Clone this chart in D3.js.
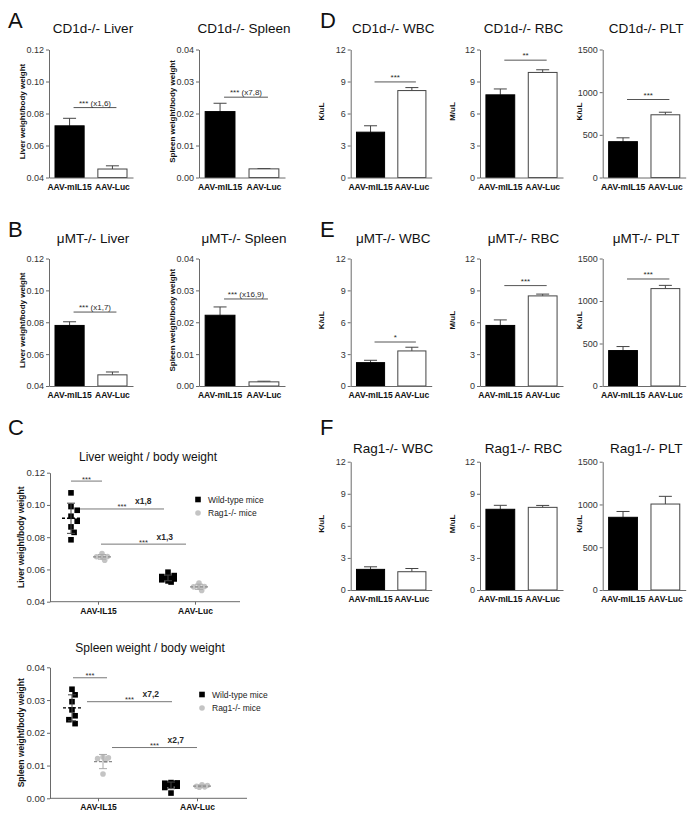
<!DOCTYPE html>
<html><head><meta charset="utf-8">
<script src="https://cdn.jsdelivr.net/npm/d3@7"></script>
<style>
body{margin:0;background:#fff}
svg text{font-family:"Liberation Sans",Arial,sans-serif}
</style>
</head><body>
<svg id="c" width="700" height="819"></svg>
<script>
// ---------------- DATA ----------------
const barCategories = ["AAV-mIL15", "AAV-Luc"];
const scatterCategories = ["AAV-IL15", "AAV-Luc"];
const mouseTypes = ["Wild-type mice", "Rag1-/- mice"];

const liverTicks = [0.04, 0.06, 0.08, 0.10, 0.12];
const spleenTicks = [0.00, 0.01, 0.02, 0.03, 0.04];
const cbcTicks = [0, 3, 6, 9, 12];
const pltTicks = [0, 500, 1000, 1500];

// Panel A (CD1d-/-)
const cd1dLiverMean = [0.0723, 0.0453];
const cd1dLiverErr = [0.0047, 0.0020];
const cd1dSpleenMean = [0.0206, 0.0027];
const cd1dSpleenErr = [0.0026, 0.0001];
// Panel B (uMT-/-)
const umtLiverMean = [0.0780, 0.0470];
const umtLiverErr = [0.0023, 0.0018];
const umtSpleenMean = [0.0222, 0.0013];
const umtSpleenErr = [0.0026, 0.0002];
// Panel D (CD1d-/- blood)
const cd1dWbcMean = [4.25, 8.15], cd1dWbcErr = [0.60, 0.28];
const cd1dRbcMean = [7.75, 9.85], cd1dRbcErr = [0.55, 0.25];
const cd1dPltMean = [420, 735], cd1dPltErr = [45, 30];
// Panel E (uMT-/- blood)
const umtWbcMean = [2.20, 3.30], umtWbcErr = [0.22, 0.35];
const umtRbcMean = [5.70, 8.48], umtRbcErr = [0.52, 0.17];
const umtPltMean = [417, 1146], umtPltErr = [47, 38];
// Panel F (Rag1-/- blood)
const rag1WbcMean = [1.93, 1.71], rag1WbcErr = [0.24, 0.30];
const rag1RbcMean = [7.55, 7.73], rag1RbcErr = [0.37, 0.18];
const rag1PltMean = [850, 1005], rag1PltErr = [68, 90];

// significance annotations for bar panels: [label, height]
const cd1dLiverSig = ["*** (x1,6)", 0.0837];
const cd1dSpleenSig = ["*** (x7,8)", 0.0251];
const umtLiverSig = ["*** (x1,7)", 0.0864];
const umtSpleenSig = ["*** (x16,9)", 0.0273];
const cd1dWbcSig = ["***", 8.96];
const cd1dRbcSig = ["**", 11.0];
const cd1dPltSig = ["***", 914];
const umtWbcSig = ["*", 4.14];
const umtRbcSig = ["***", 9.45];
const umtPltSig = ["***", 1259];

// Panel C individual mice
const liverWtIL15 = [0.1075, 0.0990, 0.0967, 0.0930, 0.0899, 0.0864, 0.0830, 0.0784];
const liverRagIL15 = [0.0698, 0.0680, 0.0679, 0.0677, 0.0657];
const liverWtLuc = [0.0583, 0.0562, 0.0556, 0.0552, 0.0549, 0.0545, 0.0541, 0.0536, 0.0529, 0.0522];
const liverRagLuc = [0.0515, 0.0494, 0.0492, 0.0491, 0.0470];
const spleenWtIL15 = [0.0333, 0.0316, 0.0295, 0.0270, 0.0252, 0.0240, 0.0228];
const spleenRagIL15 = [0.0126, 0.0121, 0.0124, 0.0116, 0.0074];
const spleenWtLuc = [0.0048, 0.0047, 0.0046, 0.0045, 0.0043, 0.0040, 0.0037, 0.0033, 0.0016];
const spleenRagLuc = [0.0041, 0.0039, 0.0037, 0.0035, 0.0034];

// C significance: [fromType, fromGroup, toType, toGroup, height, stars, fold]
const liverScatterSig = [
  [0, 0, 1, 0, 0.1148, "***", ""],
  [0, 0, 0, 1, 0.0975, "***", "x1,8"],
  [1, 0, 1, 1, 0.0757, "***", "x1,3"]
];
const spleenScatterSig = [
  [0, 0, 1, 0, 0.0368, "***", ""],
  [0, 0, 0, 1, 0.0295, "***", "x7,2"],
  [1, 0, 1, 1, 0.0155, "***", "x2,7"]
];

// ---------------- DRAWING ----------------
const svg = d3.select("#c");
const AXIS = "#6a6a6a";
const INK = "#2a2a2a";
const fmt2 = d3.format(".2f");
const fmt0 = d3.format("d");

function styleAxis(sel, fs) {
  sel.attr("font-family", null).attr("font-size", null);
  sel.select(".domain").attr("stroke", AXIS);
  sel.selectAll(".tick line").attr("stroke", AXIS);
  sel.selectAll(".tick text").attr("fill", "#333").style("font-size", fs || "9px");
}

function letter(t, x, y) {
  svg.append("text").attr("x", x).attr("y", y).style("font-size", "22px").attr("fill", "#111").text(t);
}

function barPanel(o) {
  const g = svg.append("g");
  const y = d3.scaleLinear().domain(o.domain).range([o.bottom, o.top]);
  const x = d3.scaleBand().domain(barCategories).range([o.x0, o.x0 + o.w])
    .paddingInner(0.32).paddingOuter(0.14);
  const bw = x.bandwidth();
  g.append("text").attr("x", o.x0 + o.w / 2 + 2).attr("y", o.titleY)
    .attr("text-anchor", "middle").style("font-size", "13.5px").attr("fill", "#111").text(o.title);
  g.append("text").attr("transform", `translate(${o.labelX},${(o.top + o.bottom) / 2 - 2}) rotate(-90)`)
    .attr("dy", "0.35em").attr("text-anchor", "middle").style("font-weight", "bold")
    .style("font-size", "8px").attr("fill", "#111").text(o.ylabel);
  const rows = barCategories.map((c, i) => ({ c, i, m: o.mean[i], e: o.err[i] }));
  g.selectAll("path.err").data(rows).join("path").attr("class", "err")
    .attr("d", d => {
      const cx = x(d.c) + bw / 2, y1 = y(d.m), y2 = y(d.m + d.e);
      return `M${cx},${y1}V${y2}M${cx - 6.5},${y2}H${cx + 6.5}`;
    })
    .attr("stroke", "#444").attr("fill", "none").attr("stroke-width", 1);
  g.selectAll("rect").data(rows).join("rect")
    .attr("x", d => x(d.c)).attr("y", d => y(d.m))
    .attr("width", bw).attr("height", d => o.bottom - y(d.m))
    .attr("fill", d => d.i === 0 ? "#000" : "#fff")
    .attr("stroke", d => d.i === 0 ? "#000" : "#444").attr("stroke-width", 1);
  const ay = g.append("g").attr("transform", `translate(${o.x0},0)`)
    .call(d3.axisLeft(y).tickValues(o.ticks).tickFormat(o.fmt).tickSize(3).tickSizeOuter(0).tickPadding(2));
  styleAxis(ay);
  const ax = g.append("g").attr("transform", `translate(0,${o.bottom})`)
    .call(d3.axisBottom(x).tickSize(0).tickSizeOuter(0).tickPadding(6));
  styleAxis(ax);
  ax.selectAll(".tick text").style("font-weight", "bold").style("font-size", "8.5px").attr("fill", "#111");
  if (o.sig) {
    const xa = x(barCategories[0]) + bw / 2 + 4, xb = x(barCategories[1]) + bw / 2 + 4;
    const yy = y(o.sig[1]);
    g.append("line").attr("x1", xa).attr("x2", xb).attr("y1", yy).attr("y2", yy)
      .attr("stroke", "#555").attr("stroke-width", 1);
    g.append("text").attr("x", (xa + xb) / 2).attr("y", yy - 2).attr("text-anchor", "middle")
      .style("font-size", "8px").attr("fill", INK).text(o.sig[0]);
  }
}

// simple bounded beeswarm: spreads colliding points sideways, at most maxOff from the column
function swarm(values, cx, y, size, maxOff) {
  const placed = [];
  const sorted = values.slice().sort((a, b) => b - a);
  const step = size * 0.5;
  const offs = [0];
  for (let i = 1; i * step <= maxOff + 0.01; i++) offs.push(i * step, -i * step);
  return sorted.map(v => {
    const py = y(v);
    let best = null, bestD = -1;
    for (const o of offs) {
      const px = cx + o;
      const dmin = placed.length ? d3.min(placed, p => Math.hypot(p.x - px, p.y - py)) : Infinity;
      if (dmin >= size) { best = px; break; }
      if (dmin > bestD) { bestD = dmin; best = px; }
    }
    placed.push({ x: best, y: py });
    return { x: best, y: py };
  });
}

function scatterPanel(o) {
  const g = svg.append("g");
  const y = d3.scaleLinear().domain(o.domain).range([o.bottom, o.top]);
  const xg = d3.scalePoint().domain(scatterCategories).range(o.groupRange);
  const col = (t, gi) => xg(scatterCategories[gi]) + (t === 0 ? o.wtOff : o.ragOff);

  g.append("text").attr("x", o.titleX).attr("y", o.titleY).attr("text-anchor", "middle")
    .style("font-size", "12px").attr("fill", "#111").text(o.title);
  g.append("text").attr("transform", `translate(${o.labelX},${(o.top + o.bottom) / 2}) rotate(-90)`)
    .attr("dy", "0.35em").attr("text-anchor", "middle").style("font-weight", "bold")
    .style("font-size", "8.5px").attr("fill", "#111").text(o.ylabel);

  // points
  o.series.forEach((groups, t) => {
    groups.forEach((vals, gi) => {
      const cx = col(t, gi);
      const pts = t === 0 ? swarm(vals, cx, y, 6.2, 8) : swarm(vals, cx, y, 5.4, 7);
      if (t === 0) {
        g.selectAll(null).data(pts).join("rect")
          .attr("x", d => d.x - 2.8).attr("y", d => d.y - 2.8).attr("width", 5.6).attr("height", 5.6)
          .attr("fill", "#000");
      } else {
        g.selectAll(null).data(pts).join("circle")
          .attr("cx", d => d.x).attr("cy", d => d.y).attr("r", 2.8).attr("fill", "#c4c4c4");
      }
      const m = d3.mean(vals), sd = d3.deviation(vals);
      const sdCol = t === 0 ? "#444" : "#aaa";
      const mCol = t === 0 ? "#000" : "#8a8a8a";
      g.append("path")
        .attr("d", `M${cx},${y(m + sd)}V${y(m - sd)}M${cx - 4},${y(m + sd)}H${cx + 4}M${cx - 4},${y(m - sd)}H${cx + 4}`)
        .attr("stroke", sdCol).attr("fill", "none").attr("stroke-width", 1);
      g.append("line").attr("x1", cx - 9).attr("x2", cx + 9).attr("y1", y(m)).attr("y2", y(m))
        .attr("stroke", mCol).attr("stroke-width", 1.3).attr("stroke-dasharray", "3,2");
    });
  });

  // axes
  const ay = g.append("g").attr("transform", `translate(${o.x0},0)`)
    .call(d3.axisLeft(y).tickValues(o.ticks).tickFormat(fmt2).tickSize(3).tickSizeOuter(0).tickPadding(2));
  styleAxis(ay, "9.5px");
  g.append("line").attr("x1", o.x0).attr("x2", o.x1).attr("y1", o.bottom).attr("y2", o.bottom)
    .attr("stroke", AXIS);
  const ax = g.append("g").attr("transform", `translate(0,${o.bottom})`)
    .call(d3.axisBottom(xg).tickSize(3).tickSizeOuter(0).tickPadding(3));
  styleAxis(ax);
  ax.select(".domain").remove();
  ax.selectAll(".tick text").style("font-weight", "bold").style("font-size", "8.5px").attr("fill", "#111");

  // significance
  o.sig.forEach((s, k) => {
    const ins = o.sigInsets[k];
    const xa = col(s[0], s[1]) + ins[0], xb = col(s[2], s[3]) + ins[1];
    const yy = y(s[4]);
    const cxm = (xa + xb) / 2;
    g.append("line").attr("x1", xa).attr("x2", xb).attr("y1", yy).attr("y2", yy)
      .attr("stroke", "#777").attr("stroke-width", 1);
    g.append("text").attr("x", cxm).attr("y", yy + 0.5).attr("text-anchor", "middle")
      .style("font-size", "7.5px").attr("fill", INK).text(s[5]);
    if (s[6]) {
      g.append("text").attr("x", cxm + 13).attr("y", yy - 4.5)
        .style("font-size", "8.5px").style("font-weight", "bold").attr("fill", INK).text(s[6]);
    }
  });

  // legend
  const lg = g.append("g");
  lg.append("rect").attr("x", o.legX - 2.8).attr("y", o.legY - 2.8).attr("width", 5.6).attr("height", 5.6).attr("fill", "#000");
  lg.append("circle").attr("cx", o.legX).attr("cy", o.legY + 13.5).attr("r", 2.8).attr("fill", "#c4c4c4");
  mouseTypes.forEach((t, i) => {
    lg.append("text").attr("x", o.legX + 10).attr("y", o.legY + 3 + i * 13.5)
      .style("font-size", "8.5px").attr("fill", "#222").text(t);
  });
}

// ---------- layout ----------
letter("A", 8, 28); letter("B", 8, 237); letter("C", 8, 435);
letter("D", 320, 28); letter("E", 320, 237); letter("F", 320, 435);

const rows = [
  { top: 49.5, bottom: 177.5, titleY: 33 },
  { top: 258.5, bottom: 386, titleY: 243 },
  { top: 461.7, bottom: 590, titleY: 453 }
];

barPanel({ x0: 49, w: 84, ...rows[0], domain: [0.04, 0.12], ticks: liverTicks, fmt: fmt2,
  mean: cd1dLiverMean, err: cd1dLiverErr, title: "CD1d-/- Liver", ylabel: "Liver weight/body weight", labelX: 22, sig: cd1dLiverSig });
barPanel({ x0: 199, w: 86, ...rows[0], domain: [0, 0.04], ticks: spleenTicks, fmt: fmt2,
  mean: cd1dSpleenMean, err: cd1dSpleenErr, title: "CD1d-/- Spleen", ylabel: "Spleen weight/body weight", labelX: 172, sig: cd1dSpleenSig });
barPanel({ x0: 49, w: 84, ...rows[1], domain: [0.04, 0.12], ticks: liverTicks, fmt: fmt2,
  mean: umtLiverMean, err: umtLiverErr, title: "μMT-/- Liver", ylabel: "Liver weight/body weight", labelX: 22, sig: umtLiverSig });
barPanel({ x0: 199, w: 86, ...rows[1], domain: [0, 0.04], ticks: spleenTicks, fmt: fmt2,
  mean: umtSpleenMean, err: umtSpleenErr, title: "μMT-/- Spleen", ylabel: "Spleen weight/body weight", labelX: 172, sig: umtSpleenSig });

const dCols = [
  { x0: 350.7, w: 81, labelX: 321 },
  { x0: 480, w: 83, labelX: 452 },
  { x0: 602.7, w: 83, labelX: 579 }
];
const blood = [
  [["CD1d-/- WBC", cd1dWbcMean, cd1dWbcErr, cd1dWbcSig], ["CD1d-/- RBC", cd1dRbcMean, cd1dRbcErr, cd1dRbcSig], ["CD1d-/- PLT", cd1dPltMean, cd1dPltErr, cd1dPltSig]],
  [["μMT-/- WBC", umtWbcMean, umtWbcErr, umtWbcSig], ["μMT-/- RBC", umtRbcMean, umtRbcErr, umtRbcSig], ["μMT-/- PLT", umtPltMean, umtPltErr, umtPltSig]],
  [["Rag1-/- WBC", rag1WbcMean, rag1WbcErr, null], ["Rag1-/- RBC", rag1RbcMean, rag1RbcErr, null], ["Rag1-/- PLT", rag1PltMean, rag1PltErr, null]]
];
const bloodUnits = ["K/uL", "M/uL", "K/uL"];
blood.forEach((row, r) => {
  row.forEach((p, c) => {
    const isPlt = c === 2;
    barPanel({ ...dCols[c], ...rows[r], domain: isPlt ? [0, 1500] : [0, 12],
      ticks: isPlt ? pltTicks : cbcTicks, fmt: fmt0, mean: p[1], err: p[2],
      title: p[0], ylabel: bloodUnits[c], sig: p[3] });
  });
});

scatterPanel({ x0: 50, x1: 240, top: 472.7, bottom: 601.7, domain: [0.04, 0.12], ticks: liverTicks,
  groupRange: [98, 195], wtOff: -27, ragOff: 4,
  series: [[liverWtIL15, liverWtLuc], [liverRagIL15, liverRagLuc]],
  title: "Liver weight / body weight", titleX: 148, titleY: 461, ylabel: "Liver weight/body weight", labelX: 21,
  sig: liverScatterSig, sigInsets: [[0, 0], [9, -4], [-1, -13]], legX: 198, legY: 499.5 });

scatterPanel({ x0: 50, x1: 247, top: 667.3, bottom: 798.3, domain: [0, 0.04], ticks: spleenTicks,
  groupRange: [98, 197], wtOff: -26, ragOff: 5,
  series: [[spleenWtIL15, spleenWtLuc], [spleenRagIL15, spleenRagLuc]],
  title: "Spleen weight / body weight", titleX: 150, titleY: 652, ylabel: "Spleen weight/body weight", labelX: 21,
  sig: spleenScatterSig, sigInsets: [[1, 4], [15, 1], [9, -5]], legX: 202, legY: 694.5 });
</script>
</body></html>
